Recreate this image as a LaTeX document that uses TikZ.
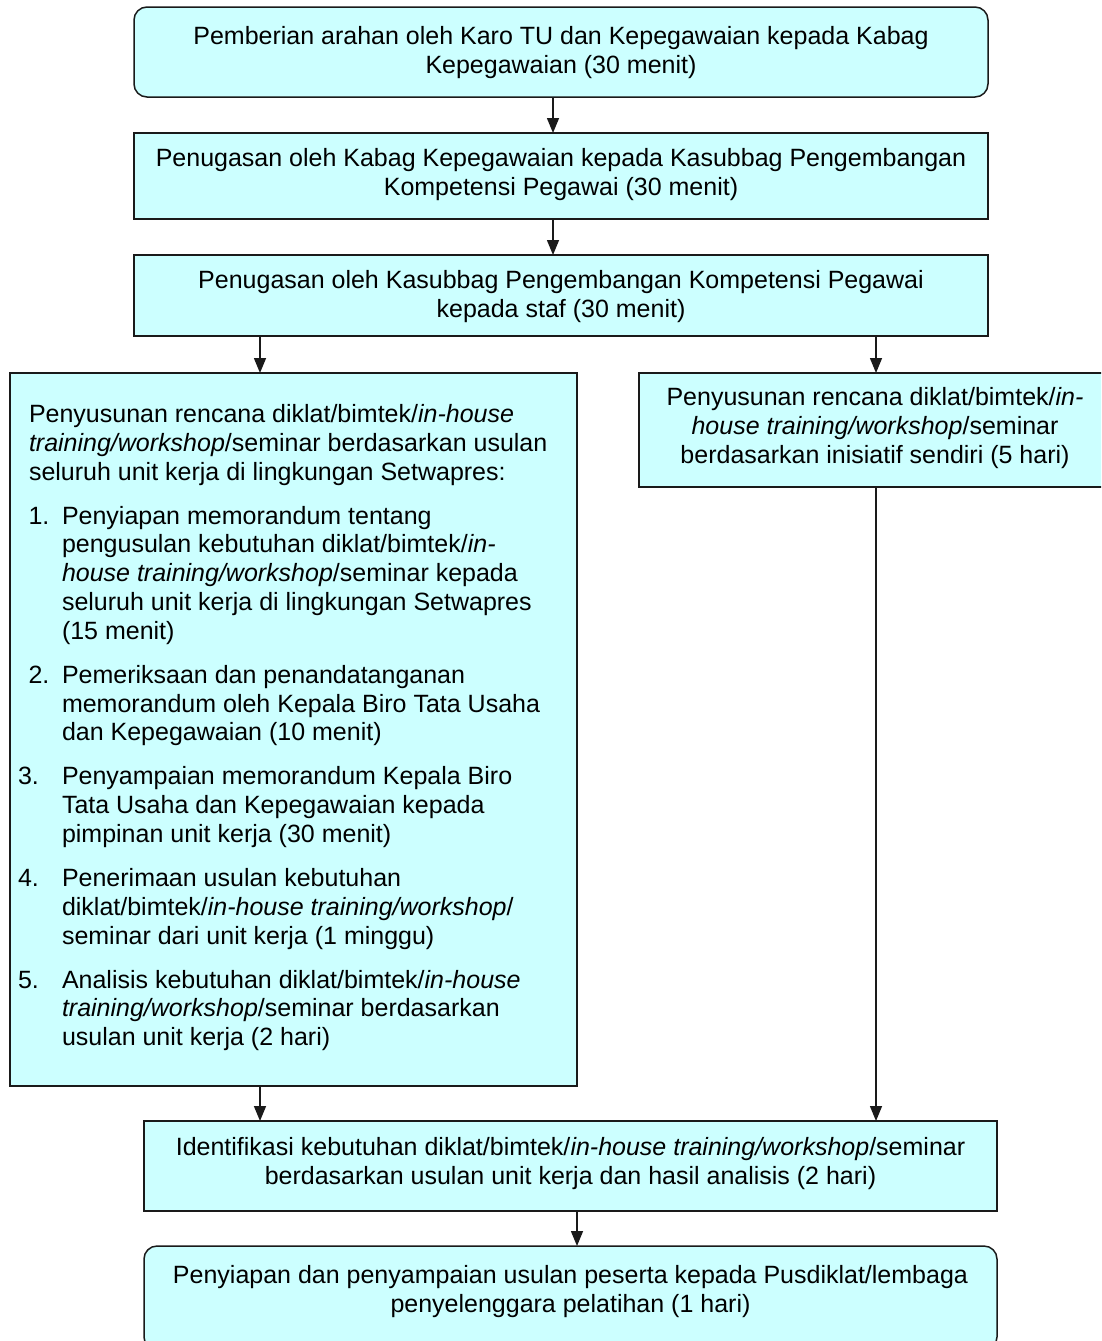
\documentclass[tikz,border=0pt]{standalone}
\usepackage{fontspec}
\setmainfont{Liberation Sans}
\usetikzlibrary{arrows.meta}
\definecolor{boxfill}{HTML}{CCFFFF}
\definecolor{boxline}{HTML}{1A1A1A}
\begin{document}
\begin{tikzpicture}[x=1pt,y=-1pt,
  every node/.style={font=\fontsize{25}{28.8}\selectfont, inner sep=0pt, outer sep=0pt},
  sqbox/.style={draw=boxline, fill=boxfill, line width=1.5pt},
  rdbox/.style={sqbox, rounded corners=13pt},
  txt/.style={align=center},
  ltxt/.style={align=left, anchor=north west},
  arr/.style={line width=1.5pt, draw=boxline, -{Triangle[length=15pt,width=12pt]}}]
\useasboundingbox (0,0) rectangle (1101,1341);
\clip (0,0) rectangle (1101,1341);
\fill[white] (0,0) rectangle (1101,1341);

% boxes
\node[rdbox, minimum width=854pt, minimum height=90pt] (b1) at (561,52) {};
\node[sqbox, minimum width=854pt, minimum height=86pt] (b2) at (561,176) {};
\node[sqbox, minimum width=854pt, minimum height=81pt] (b3) at (561,295.5) {};
\node[sqbox, minimum width=567pt, minimum height=713pt] (bl) at (293.5,729.5) {};
\node[sqbox, minimum width=474pt, minimum height=114pt] (br) at (876,430) {};
\node[sqbox, minimum width=853pt, minimum height=90pt] (bi) at (570.5,1166) {};
\node[rdbox, minimum width=853pt, minimum height=104pt] (bb) at (570.5,1298) {};

% centred texts
\node[txt] (b1t) at (561,52.9) {\strut Pemberian arahan oleh Karo TU dan Kepegawaian kepada Kabag\\ \strut Kepegawaian (30 menit)};
\node[txt] (b2t) at (561,175.3) {\strut Penugasan oleh Kabag Kepegawaian kepada Kasubbag Pengembangan\\ \strut Kompetensi Pegawai (30 menit)};
\node[txt] (b3t) at (561,297.6) {\strut Penugasan oleh Kasubbag Pengembangan Kompetensi Pegawai\\ \strut kepada staf (30 menit)};
\node[txt] (brt) at (875,429) {\strut Penyusunan rencana diklat/bimtek/\textit{in-}\\ \strut\textit{house training/workshop}/seminar\\ \strut berdasarkan inisiatif sendiri (5 hari)};
\node[txt] (bit) at (570.5,1164.6) {\strut Identifikasi kebutuhan diklat/bimtek/\textit{in-house training/workshop}/seminar\\ \strut berdasarkan usulan unit kerja dan hasil analisis (2 hari)};
\node[txt] (bbt) at (570.5,1292.6) {\strut Penyiapan dan penyampaian usulan peserta kepada Pusdiklat/lembaga\\ \strut penyelenggara pelatihan (1 hari)};

% left box texts
\node[ltxt] (t0) at (29,402.3) {\strut Penyusunan rencana diklat/bimtek/\textit{in-house}\\ \textit{training/workshop}/seminar berdasarkan usulan\\ seluruh unit kerja di lingkungan Setwapres:};
\node[ltxt] (n1) at (28.5,503.9) {\strut 1.};
\node[ltxt] (t1) at (62,503.9) {\strut Penyiapan memorandum tentang\\ pengusulan kebutuhan diklat/bimtek/\textit{in-}\\ \textit{house training/workshop}/seminar kepada\\ seluruh unit kerja di lingkungan Setwapres\\ (15 menit)};
\node[ltxt] (n2) at (28.5,663.1) {\strut 2.};
\node[ltxt] (t2) at (62,663.1) {\strut Pemeriksaan dan penandatanganan\\ memorandum oleh Kepala Biro Tata Usaha\\ dan Kepegawaian (10 menit)};
\node[ltxt] (n3) at (18,764.7) {\strut 3.};
\node[ltxt] (t3) at (62,764.7) {\strut Penyampaian memorandum Kepala Biro\\ Tata Usaha dan Kepegawaian kepada\\ pimpinan unit kerja (30 menit)};
\node[ltxt] (n4) at (18,866.3) {\strut 4.};
\node[ltxt] (t4) at (62,866.3) {\strut Penerimaan usulan kebutuhan\\ diklat/bimtek/\textit{in-house training/workshop}/\\ seminar dari unit kerja (1 minggu)};
\node[ltxt] (n5) at (18,967.9) {\strut 5.};
\node[ltxt] (t5) at (62,967.9) {\strut Analisis kebutuhan diklat/bimtek/\textit{in-house}\\ \textit{training/workshop}/seminar berdasarkan\\ usulan unit kerja (2 hari)};

% connectors
\coordinate (xa) at (553,0);
\coordinate (xl) at (260,0);
\coordinate (xr) at (876,0);
\coordinate (xm) at (577,0);
\draw[arr] (b1.south -| xa) -- (b2.north -| xa);
\draw[arr] (b2.south -| xa) -- (b3.north -| xa);
\draw[arr] (b3.south -| xl) -- (bl.north -| xl);
\draw[arr] (b3.south -| xr) -- (br.north -| xr);
\draw[arr] (bl.south -| xl) -- (bi.north -| xl);
\draw[arr] (br.south -| xr) -- (bi.north -| xr);
\draw[arr] (bi.south -| xm) -- (bb.north -| xm);
\end{tikzpicture}
\end{document}
